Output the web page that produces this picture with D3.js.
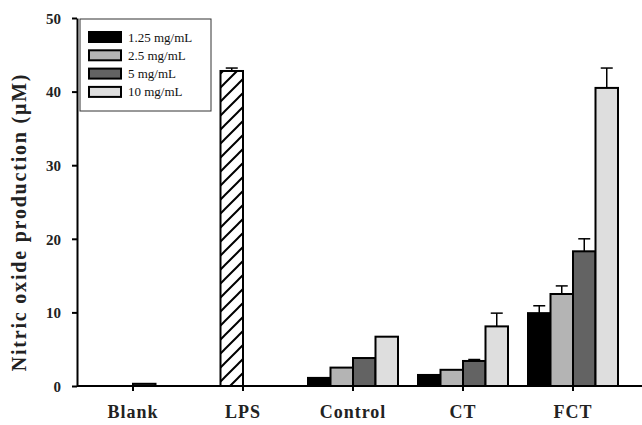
<!DOCTYPE html>
<meta charset="utf-8">
<style>
body { margin: 0; background: #fff; }
.axis text { font: bold 15px "Liberation Serif", "Times New Roman", serif; fill: #222; }
.axis line, .axis path { stroke: #000; stroke-width: 2; fill: none; }
.xaxis text { font-size: 18px; letter-spacing: 1px; }
.legend text { font: 13px "Liberation Serif", "Times New Roman", serif; fill: #111; }
</style>
<body>
<script src="https://cdn.jsdelivr.net/npm/d3@7"></script>
<script>
// categories and series
var categories = ["Blank", "LPS", "Control", "CT", "FCT"];
var series = ["1.25 mg/mL", "2.5 mg/mL", "5 mg/mL", "10 mg/mL"];
var colors = ["#000000", "#b4b4b4", "#636363", "#dedede"];

// values per series (null = no bar)
var v125 = [null, null, 1.1, 1.5, 9.9];
var v25  = [null, 42.8, 2.5, 2.2, 12.5];
var v5   = [0.3, null, 3.8, 3.4, 18.3];
var v10  = [null, null, 6.7, 8.1, 40.5];
var e125 = [null, null, 0, 0, 1.0];
var e25  = [null, 0.4, 0, 0, 1.1];
var e5   = [0, null, 0, 0.2, 1.7];
var e10  = [null, null, 0, 1.8, 2.7];

var yTicks = [0, 10, 20, 30, 40, 50];

var vals = [v125, v25, v5, v10], errs = [e125, e25, e5, e10];

var W = 642, H = 425;
var margin = {left: 77, top: 18, bottom: 39};
var y0 = H - margin.bottom;

var svg = d3.select("body").append("svg")
    .attr("width", W)
    .attr("height", H);

// hatch for LPS
var pat = svg.append("defs").append("pattern")
    .attr("id", "hatch")
    .attr("patternUnits", "userSpaceOnUse")
    .attr("width", 14).attr("height", 14);
pat.append("rect").attr("width", 14).attr("height", 14).attr("fill", "#fff");
pat.append("path").attr("d", "M-2,2 L2,-2 M0,14 L14,0 M12,16 L16,12")
    .attr("stroke", "#000").attr("stroke-width", 2);

var x0 = d3.scaleBand().domain(categories).range([78, 628]);
var x1 = d3.scaleBand().domain(d3.range(series.length)).range([0, 90]);
var y = d3.scaleLinear().domain([0, 50]).range([y0, margin.top]);

var cells = [];
vals.forEach(function(arr, s) {
  arr.forEach(function(v, c) {
    if (v != null) cells.push({cat: categories[c], s: s, v: v, e: errs[s][c]});
  });
});

function bx(d) { return x0(d.cat) + (x0.bandwidth() - 90) / 2 + x1(d.s); }

// error bars
var eb = svg.append("g").selectAll("g").data(cells.filter(function(d) { return d.e > 0; }))
  .enter().append("g");
eb.append("line")
    .attr("x1", function(d) { return bx(d) + x1.bandwidth() / 2; })
    .attr("x2", function(d) { return bx(d) + x1.bandwidth() / 2; })
    .attr("y1", function(d) { return y(d.v); })
    .attr("y2", function(d) { return y(d.v + d.e); })
    .attr("stroke", "#000").attr("stroke-width", 1.5);
eb.append("line")
    .attr("x1", function(d) { return bx(d) + x1.bandwidth() / 2 - 6; })
    .attr("x2", function(d) { return bx(d) + x1.bandwidth() / 2 + 6; })
    .attr("y1", function(d) { return y(d.v + d.e); })
    .attr("y2", function(d) { return y(d.v + d.e); })
    .attr("stroke", "#000").attr("stroke-width", 1.5);

// bars
svg.append("g").selectAll("rect").data(cells)
  .enter().append("rect")
    .attr("x", bx)
    .attr("y", function(d) { return y(d.v); })
    .attr("width", x1.bandwidth())
    .attr("height", function(d) { return y0 - y(d.v); })
    .attr("fill", function(d) { return d.cat == "LPS" ? "url(#hatch)" : colors[d.s]; })
    .attr("stroke", "#000")
    .attr("stroke-width", 2);

// axes
var yAxis = svg.append("g").attr("class", "axis")
    .attr("transform", "translate(" + margin.left + ",0)")
    .call(d3.axisLeft(y).tickValues(yTicks).tickSize(5).tickSizeOuter(0).tickPadding(11));
yAxis.selectAll("text").attr("dy", "0.35em");

var xAxis = svg.append("g").attr("class", "axis xaxis")
    .attr("transform", "translate(0," + y0 + ")")
    .call(d3.axisBottom(x0).tickSize(5).tickPadding(14));
xAxis.select(".domain").remove();
xAxis.append("line").attr("x1", margin.left).attr("x2", W).attr("y1", 0).attr("y2", 0);

// y title
svg.append("text")
    .attr("transform", "translate(26," + 222 + ") rotate(-90)")
    .attr("text-anchor", "middle")
    .style("font", "bold 20px 'Liberation Serif', 'Times New Roman', serif")
    .style("letter-spacing", "1.8px")
    .attr("fill", "#222")
    .text("Nitric oxide production (\u03bcM)");

// legend
var lg = svg.append("g").attr("class", "legend");
lg.append("rect").attr("x", 80).attr("y", 19).attr("width", 131).attr("height", 92)
    .attr("fill", "#fff").attr("stroke", "#333").attr("stroke-width", 1);
var li = lg.selectAll("g.item").data(series).enter().append("g")
    .attr("transform", function(d, i) { return "translate(89," + (32 + i * 18.3) + ")"; });
li.append("rect").attr("width", 32).attr("height", 10)
    .attr("fill", function(d, i) { return colors[i]; })
    .attr("stroke", "#000").attr("stroke-width", 2);
li.append("text").attr("x", 39).attr("y", 5).attr("dy", "0.35em").text(function(d) { return d; });
</script>
</body>
